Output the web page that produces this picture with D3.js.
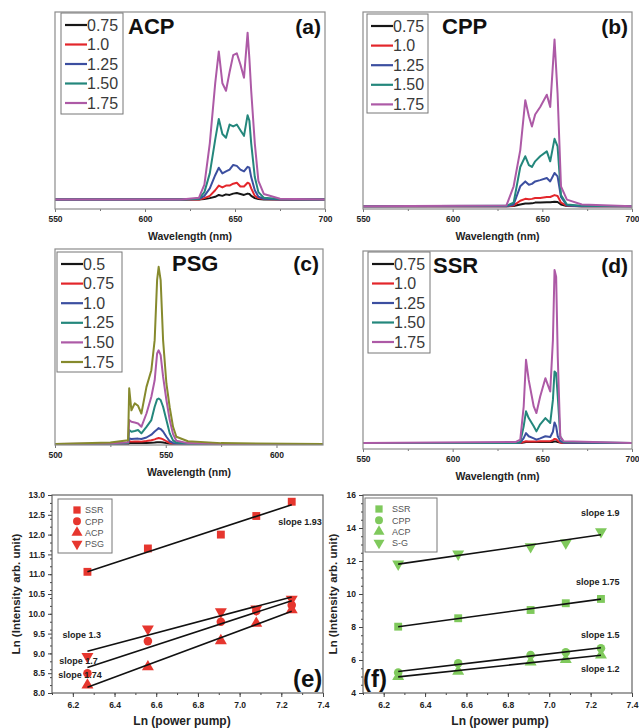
<!DOCTYPE html>
<html>
<head>
<meta charset="utf-8">
<script src="https://cdn.jsdelivr.net/npm/d3@7"></script>
<style>
  body { margin: 0; background: #fff; }
  svg { display: block; }
  text { font-family: "Liberation Sans", Arial, sans-serif; }
</style>
</head>
<body>
<div id="chart"></div>
<script>
// ---- spectra data (intensity in arbitrary units) ----
var levelsA = ["0.75", "1.0", "1.25", "1.50", "1.75"];
var levelsC = ["0.5", "0.75", "1.0", "1.25", "1.50", "1.75"];

// (a) ACP
var wlA    = [550, 620, 630, 633, 636, 639, 641, 643, 645, 647, 649, 651, 653, 655, 657, 658, 659, 661, 663, 666, 675, 700];
var acp075 = [0, 0, 0, 0.3, 0.8, 1.5, 2.5, 2, 2.8, 2.5, 3.2, 3.5, 3, 2.5, 3.2, 3, 2, 0.8, 0.3, 0, 0, 0];
var acp100 = [0, 0, 0, 0.8, 2, 5, 7.5, 6.5, 7.5, 7.5, 8.5, 9, 7, 7, 9, 8.5, 6, 2, 0.8, 0.3, 0, 0];
var acp125 = [0, 0, 0.3, 2, 6, 13, 17, 14, 15, 16, 18.5, 18, 16, 15, 17.5, 17, 12, 5, 1.5, 0.5, 0, 0];
var acp150 = [0, 0, 0.5, 4, 14, 32, 43, 35, 33, 40, 39, 40, 37, 34, 45, 42, 30, 12, 4, 1, 0.3, 0];
var acp175 = [0, 0, 1, 8, 30, 62, 79, 62, 58, 68, 77, 78, 72, 65, 89, 75, 58, 30, 10, 3, 0.5, 0];

// (b) CPP
var wlB    = [550, 630, 634, 637.7, 640.5, 642.5, 644.2, 646, 648.8, 652.5, 654.4, 656.8, 658.5, 660.4, 663.7, 672, 700];
var cpp075 = [0, 0, 0.2, 1, 1.5, 1.5, 1.6, 2, 2, 2.2, 2.2, 2.5, 2.3, 1, 0.2, 0, 0];
var cpp100 = [0, 0, 0.5, 3, 4, 3.8, 4, 4.5, 4.5, 5, 5, 6, 5.5, 2, 0.3, 0, 0];
var cpp125 = [0, 0, 1, 10.7, 13.3, 11.5, 12, 13.3, 14, 15.1, 13.3, 17.8, 16, 5, 0.5, 0, 0];
var cpp150 = [0, 0.3, 2, 21, 26.7, 22, 21, 24, 26.7, 29.3, 24, 36, 32, 6, 1, 0.3, 0];
var cpp175 = [0, 0.5, 10.7, 30, 56.6, 48, 42.6, 49, 53, 59.5, 53, 88.9, 60, 10.7, 3.6, 1, 0];

// (c) PSG
var wlC    = [500, 525, 533, 533.5, 534.5, 536, 537.5, 539, 541.3, 543.5, 545, 546.1, 546.8, 547.7, 548.8, 550.3, 551.8, 553.3, 554.8, 560, 575, 621];
var psg050 = [0, 0, 0, 0.5, 0.5, 0.5, 0.5, 0.5, 0.6, 0.7, 0.8, 1, 1, 1, 0.8, 0.5, 0.2, 0, 0, 0, 0, 0];
var psg075 = [0, 0, 0.2, 1.5, 1.3, 1.4, 1.4, 1.3, 1.6, 2, 2.5, 3, 3.2, 3, 2.5, 1.5, 0.6, 0.2, 0, 0, 0, 0];
var psg100 = [0, 0, 0.3, 3, 2.7, 2.8, 2.9, 2.7, 3.5, 5, 6.7, 7.8, 8.5, 8, 6.7, 3.9, 1.5, 0.6, 0.2, 0, 0, 0];
var psg125 = [0, 0.2, 0.5, 7.5, 6.6, 7, 7.5, 5.7, 9.2, 12.8, 19.9, 23.8, 24.3, 23.5, 19.9, 12.8, 5.7, 2, 0.8, 0.3, 0, 0];
var psg150 = [0, 0.3, 1, 12.8, 11.9, 11.5, 11, 9.2, 16.3, 25.2, 34, 48.3, 50, 47.4, 35.9, 23.5, 12.8, 5.3, 1.8, 0.5, 0, 0];
var psg175 = [0, 0.8, 2, 29.7, 18, 21.7, 20.4, 16.3, 30.5, 39.4, 55.4, 87.4, 94.5, 87.4, 55.4, 32.3, 19.5, 9.2, 3.9, 1.5, 0.5, 0];

// (d) SSR
var wlD    = [550, 635, 637.7, 639.6, 640.9, 642.4, 645.2, 646.7, 648.8, 651.7, 654.4, 655.9, 656.8, 657.7, 658.6, 660, 661.8, 700];
var ssr075 = [0, 0, 0, 0.3, 0.5, 0.5, 0.5, 0.5, 0.5, 0.5, 0.5, 0.6, 0.8, 0.8, 0.5, 0.2, 0, 0];
var ssr100 = [0, 0, 0, 0.6, 0.9, 0.8, 0.8, 0.8, 0.9, 1, 1, 1.5, 2.2, 2, 1.2, 0.3, 0, 0];
var ssr125 = [0, 0, 0.2, 2.6, 5.3, 3.6, 2.5, 1.8, 2.5, 3.6, 3.2, 6, 11, 8.9, 3.6, 1, 0.2, 0];
var ssr150 = [0, 0, 0.5, 8.9, 16.9, 13.3, 8.9, 6.2, 10, 13.3, 10.7, 23, 38.2, 37.3, 24.9, 3.5, 0.5, 0];
var ssr175 = [0, 0.5, 1.8, 19.5, 44.4, 33.7, 19.5, 16, 24.8, 34.6, 27.5, 55, 92.4, 88.8, 46, 3.5, 1, 0];

var lineColors = ["#161616", "#e3262b", "#3c4fa0", "#24877c", "#ad5aa6", "#868a2d"];

// ---- power dependence data ----
var lnPump = [6.27, 6.56, 6.91, 7.08, 7.25];
var eSSR = [11.06, 11.65, 12.0, 12.47, 12.83];
var eCPP = [8.5, 9.31, 9.8, 10.07, 10.22];
var eACP = [8.2, 8.66, 9.32, 9.76, 10.1];
var ePSG = [8.92, 9.62, 10.05, 10.12, 10.37];
var fSSR = [8.02, 8.53, 9.03, 9.44, 9.7];
var fCPP = [5.24, 5.8, 6.3, 6.47, 6.71];
var fACP = [5.0, 5.32, 5.88, 6.02, 6.3];
var fSG  = [11.82, 12.42, 12.87, 13.1, 13.78];
var namesE = ["SSR", "CPP", "ACP", "PSG"];
var namesF = ["SSR", "CPP", "ACP", "S-G"];
var slopesE = ["slope 1.93", "slope 1.7", "slope 1.74", "slope 1.3"];
var slopesF = ["slope 1.75", "slope 1.5", "slope 1.2", "slope 1.9"];

var width = 639, height = 728;
var svg = d3.select("#chart").append("svg")
    .attr("width", width)
    .attr("height", height);

function spectrum(o) {
  var x = d3.scaleLinear().domain(o.xd).range([o.x0, o.x1]);
  var y = d3.scaleLinear().domain(o.yd).range([o.y1, o.y0]);
  var g = svg.append("g");

  var minor = d3.axisBottom(x).tickValues(o.minor).tickFormat("").tickSize(2);
  g.append("g").attr("transform", "translate(0," + o.y1 + ")").call(minor)
    .call(a => a.select(".domain").remove())
    .selectAll("line").attr("stroke", "#777");
  var ax = d3.axisBottom(x).tickValues(o.ticks).tickFormat(d3.format("d")).tickSize(3).tickPadding(4);
  g.append("g").attr("transform", "translate(0," + o.y1 + ")").call(ax)
    .call(a => a.select(".domain").remove())
    .call(a => a.selectAll("line").attr("stroke", "#777"))
    .selectAll("text")
      .attr("font-family", "Liberation Sans, Arial, sans-serif")
      .attr("font-weight", "bold").attr("font-size", 8.5).attr("fill", "#222");

  var line = d3.line().x((d, i) => x(o.wl[i])).y(d => y(d));
  o.series.forEach(function(s, i) {
    g.append("path").attr("d", line(s))
      .attr("fill", "none").attr("stroke", lineColors[o.colorIdx[i]])
      .attr("stroke-width", 2).attr("stroke-linejoin", "round");
  });

  g.append("rect").attr("x", o.x0).attr("y", o.y0)
    .attr("width", o.x1 - o.x0).attr("height", o.y1 - o.y0)
    .attr("fill", "none").attr("stroke", "#8c8c8c").attr("stroke-width", 1.2);

  // legend
  var lg = o.legend;
  g.append("rect").attr("x", lg.x).attr("y", lg.y).attr("width", lg.w).attr("height", lg.h)
    .attr("fill", "#fff").attr("stroke", "#777").attr("stroke-width", 1);
  o.levels.forEach(function(l, i) {
    var yy = lg.y + 12 + i * lg.step;
    g.append("line").attr("x1", lg.x + 4).attr("x2", lg.x + 26).attr("y1", yy).attr("y2", yy)
      .attr("stroke", lineColors[o.colorIdx[i]]).attr("stroke-width", 2.2);
    g.append("text").attr("x", lg.x + 26).attr("y", yy + 5.5).attr("font-size", 16)
      .attr("fill", "#3a3a3a").text(l);
  });

  g.append("text").attr("x", o.titleX).attr("y", o.y0 + 22).attr("font-size", 22)
    .attr("font-weight", "bold").attr("fill", "#111").text(o.title);
  g.append("text").attr("x", o.x1 - 4).attr("y", o.y0 + 22).attr("font-size", 21)
    .attr("font-weight", "bold").attr("text-anchor", "end").attr("fill", "#111").text(o.tag);
  g.append("text").attr("x", (o.x0 + o.x1) / 2).attr("y", o.y1 + 31).attr("font-size", 10.5)
    .attr("font-weight", "bold").attr("text-anchor", "middle").attr("fill", "#222").text("Wavelength (nm)");
}

spectrum({ x0: 55, x1: 325, y0: 12, y1: 209, xd: [550, 700], yd: [-5, 100],
  ticks: [550, 600, 650, 700], minor: [575, 625, 675], wl: wlA,
  series: [acp075, acp100, acp125, acp150, acp175], levels: levelsA, colorIdx: [0, 1, 2, 3, 4],
  legend: { x: 61, y: 13, w: 62, h: 101, step: 19.5 }, title: "ACP", titleX: 128, tag: "(a)" });

spectrum({ x0: 363, x1: 632, y0: 12, y1: 209, xd: [550, 700], yd: [-1.4, 103.6],
  ticks: [550, 600, 650, 700], minor: [575, 625, 675], wl: wlB,
  series: [cpp075, cpp100, cpp125, cpp150, cpp175], levels: levelsA, colorIdx: [0, 1, 2, 3, 4],
  legend: { x: 367, y: 14, w: 61, h: 99, step: 19.6 }, title: "CPP", titleX: 442, tag: "(b)" });

spectrum({ x0: 55, x1: 323, y0: 249, y1: 445, xd: [500, 621], yd: [-0.5, 104],
  ticks: [500, 550, 600], minor: [525, 575], wl: wlC,
  series: [psg050, psg075, psg100, psg125, psg150, psg175], levels: levelsC, colorIdx: [0, 1, 2, 3, 4, 5],
  legend: { x: 57, y: 252, w: 65, h: 120, step: 19.6 }, title: "PSG", titleX: 172, tag: "(c)" });

spectrum({ x0: 363, x1: 632, y0: 251, y1: 449, xd: [550, 700], yd: [-3.2, 102.5],
  ticks: [550, 600, 650, 700], minor: [575, 625, 675], wl: wlD,
  series: [ssr075, ssr100, ssr125, ssr150, ssr175], levels: levelsA, colorIdx: [0, 1, 2, 3, 4],
  legend: { x: 368, y: 252, w: 62, h: 101, step: 19.5 }, title: "SSR", titleX: 433, tag: "(d)" });

// least squares fit of one series
function fit(xs, ys) {
  var mx = d3.mean(xs), my = d3.mean(ys);
  var sxy = d3.sum(xs, (v, i) => (v - mx) * (ys[i] - my));
  var sxx = d3.sum(xs, v => (v - mx) * (v - mx));
  var b = sxy / sxx;
  return v => my + b * (v - mx);
}

var symbols = [
  { type: d3.symbolSquare, size: 62, rot: 0 },
  { type: d3.symbolCircle, size: 58, rot: 0 },
  { type: d3.symbolTriangle, size: 62, rot: 0 },
  { type: d3.symbolTriangle, size: 62, rot: 180 }
];

function powerPanel(o) {
  var x = d3.scaleLinear().domain([6.1, 7.4]).range([o.x0, o.x1]);
  var y = d3.scaleLinear().domain(o.yd).range([o.y1, o.y0]);
  var g = svg.append("g");
  var styleTicks = function(a) {
    a.select(".domain").remove();
    a.selectAll("line").attr("stroke", "#444");
    a.selectAll("text").attr("font-family", "Liberation Sans, Arial, sans-serif")
      .attr("font-weight", "bold").attr("font-size", 8.5).attr("fill", "#222");
  };
  g.append("g").attr("transform", "translate(0," + o.y1 + ")")
    .call(d3.axisBottom(x).tickValues(d3.range(6.1, 7.41, 0.1)).tickFormat("").tickSize(2)).call(styleTicks);
  g.append("g").attr("transform", "translate(0," + o.y1 + ")")
    .call(d3.axisBottom(x).tickValues(d3.range(6.2, 7.41, 0.2)).tickFormat(d3.format(".1f")).tickSize(4).tickPadding(5))
    .call(styleTicks);
  g.append("g").attr("transform", "translate(" + o.x0 + ",0)")
    .call(d3.axisLeft(y).ticks(o.minorN).tickFormat("").tickSize(2)).call(styleTicks);
  g.append("g").attr("transform", "translate(" + o.x0 + ",0)")
    .call(d3.axisLeft(y).ticks(o.majorN).tickFormat(d3.format(o.fmt)).tickSize(4).tickPadding(3))
    .call(styleTicks);

  o.series.forEach(function(s, i) {
    var sym = symbols[i];
    g.selectAll(null).data(s).enter().append("path")
      .attr("d", d3.symbol().type(sym.type).size(sym.size))
      .attr("transform", (d, j) => "translate(" + x(lnPump[j]) + "," + y(d) + ") rotate(" + sym.rot + ")")
      .attr("fill", o.color);
  });
  o.series.forEach(function(s) {
    var f = fit(lnPump, s);
    var ends = d3.extent(lnPump);
    g.append("line").attr("x1", x(ends[0])).attr("y1", y(f(ends[0])))
      .attr("x2", x(ends[1])).attr("y2", y(f(ends[1])))
      .attr("stroke", "#111").attr("stroke-width", 1.6);
  });

  g.append("rect").attr("x", o.x0).attr("y", o.y0)
    .attr("width", o.x1 - o.x0).attr("height", o.y1 - o.y0)
    .attr("fill", "none").attr("stroke", "#555").attr("stroke-width", 1.1);

  // legend
  var lg = o.legend;
  g.append("rect").attr("x", lg.x).attr("y", lg.y).attr("width", lg.w).attr("height", lg.h)
    .attr("fill", "none").attr("stroke", "#777");
  o.names.forEach(function(n, i) {
    var yy = lg.y + 11 + i * 11.3;
    var sym = symbols[i];
    g.append("path").attr("d", d3.symbol().type(sym.type).size(sym.size * 0.85))
      .attr("transform", "translate(" + (lg.x + lg.mx) + "," + yy + ") rotate(" + sym.rot + ")")
      .attr("fill", o.color);
    g.append("text").attr("x", lg.x + lg.tx).attr("y", yy + 3.2).attr("font-size", 9)
      .attr("fill", "#555").text(n);
  });

  o.slopes.forEach(function(t, i) {
    var p = o.slopePos[i];
    g.append("text").attr("x", x(p[0])).attr("y", y(p[1])).attr("font-size", 9)
      .attr("font-weight", "bold").attr("text-anchor", p[2]).attr("fill", "#222").text(t);
  });

  g.append("text").attr("x", o.tagX).attr("y", o.y1 - 6).attr("font-size", 24)
    .attr("font-weight", "bold").attr("fill", "#111").text(o.tag);
  g.append("text").attr("x", o.xlabelX).attr("y", o.y1 + 32).attr("font-size", 12)
    .attr("font-weight", "bold").attr("text-anchor", "middle").attr("fill", "#222").text("Ln (power pump)");
  g.append("text").attr("transform", "translate(" + o.ylabelX + "," + (o.y0 + o.y1) / 2 + ") rotate(-90)")
    .attr("font-size", 11.5).attr("font-weight", "bold").attr("text-anchor", "middle")
    .attr("fill", "#222").text("Ln (Intensity arb. unit)");
}

powerPanel({ x0: 52, x1: 323, y0: 495, y1: 693, yd: [8, 13], majorN: 10, minorN: 20, fmt: ".1f",
  series: [eSSR, eCPP, eACP, ePSG], names: namesE, color: "#e6362e",
  legend: { x: 58, y: 499, w: 54, h: 54, mx: 19, tx: 27 },
  slopes: slopesE,
  slopePos: [[7.185, 12.24, "start"], [6.135, 8.73, "start"], [6.13, 8.38, "start"], [6.15, 9.39, "start"]],
  tag: "(e)", tagX: 293, xlabelX: 182, ylabelX: 20 });

powerPanel({ x0: 363, x1: 632, y0: 495, y1: 693, yd: [4, 16], majorN: 6, minorN: 24, fmt: "d",
  series: [fSSR, fCPP, fACP, fSG], names: namesF, color: "#7fc95c",
  legend: { x: 365, y: 498, w: 72, h: 54, mx: 14, tx: 27 },
  slopes: slopesF,
  slopePos: [[7.34, 10.53, "end"], [7.34, 7.32, "end"], [7.34, 5.25, "end"], [7.34, 14.75, "end"]],
  tag: "(f)", tagX: 363, xlabelX: 500, ylabelX: 337 });
</script>
</body>
</html>
